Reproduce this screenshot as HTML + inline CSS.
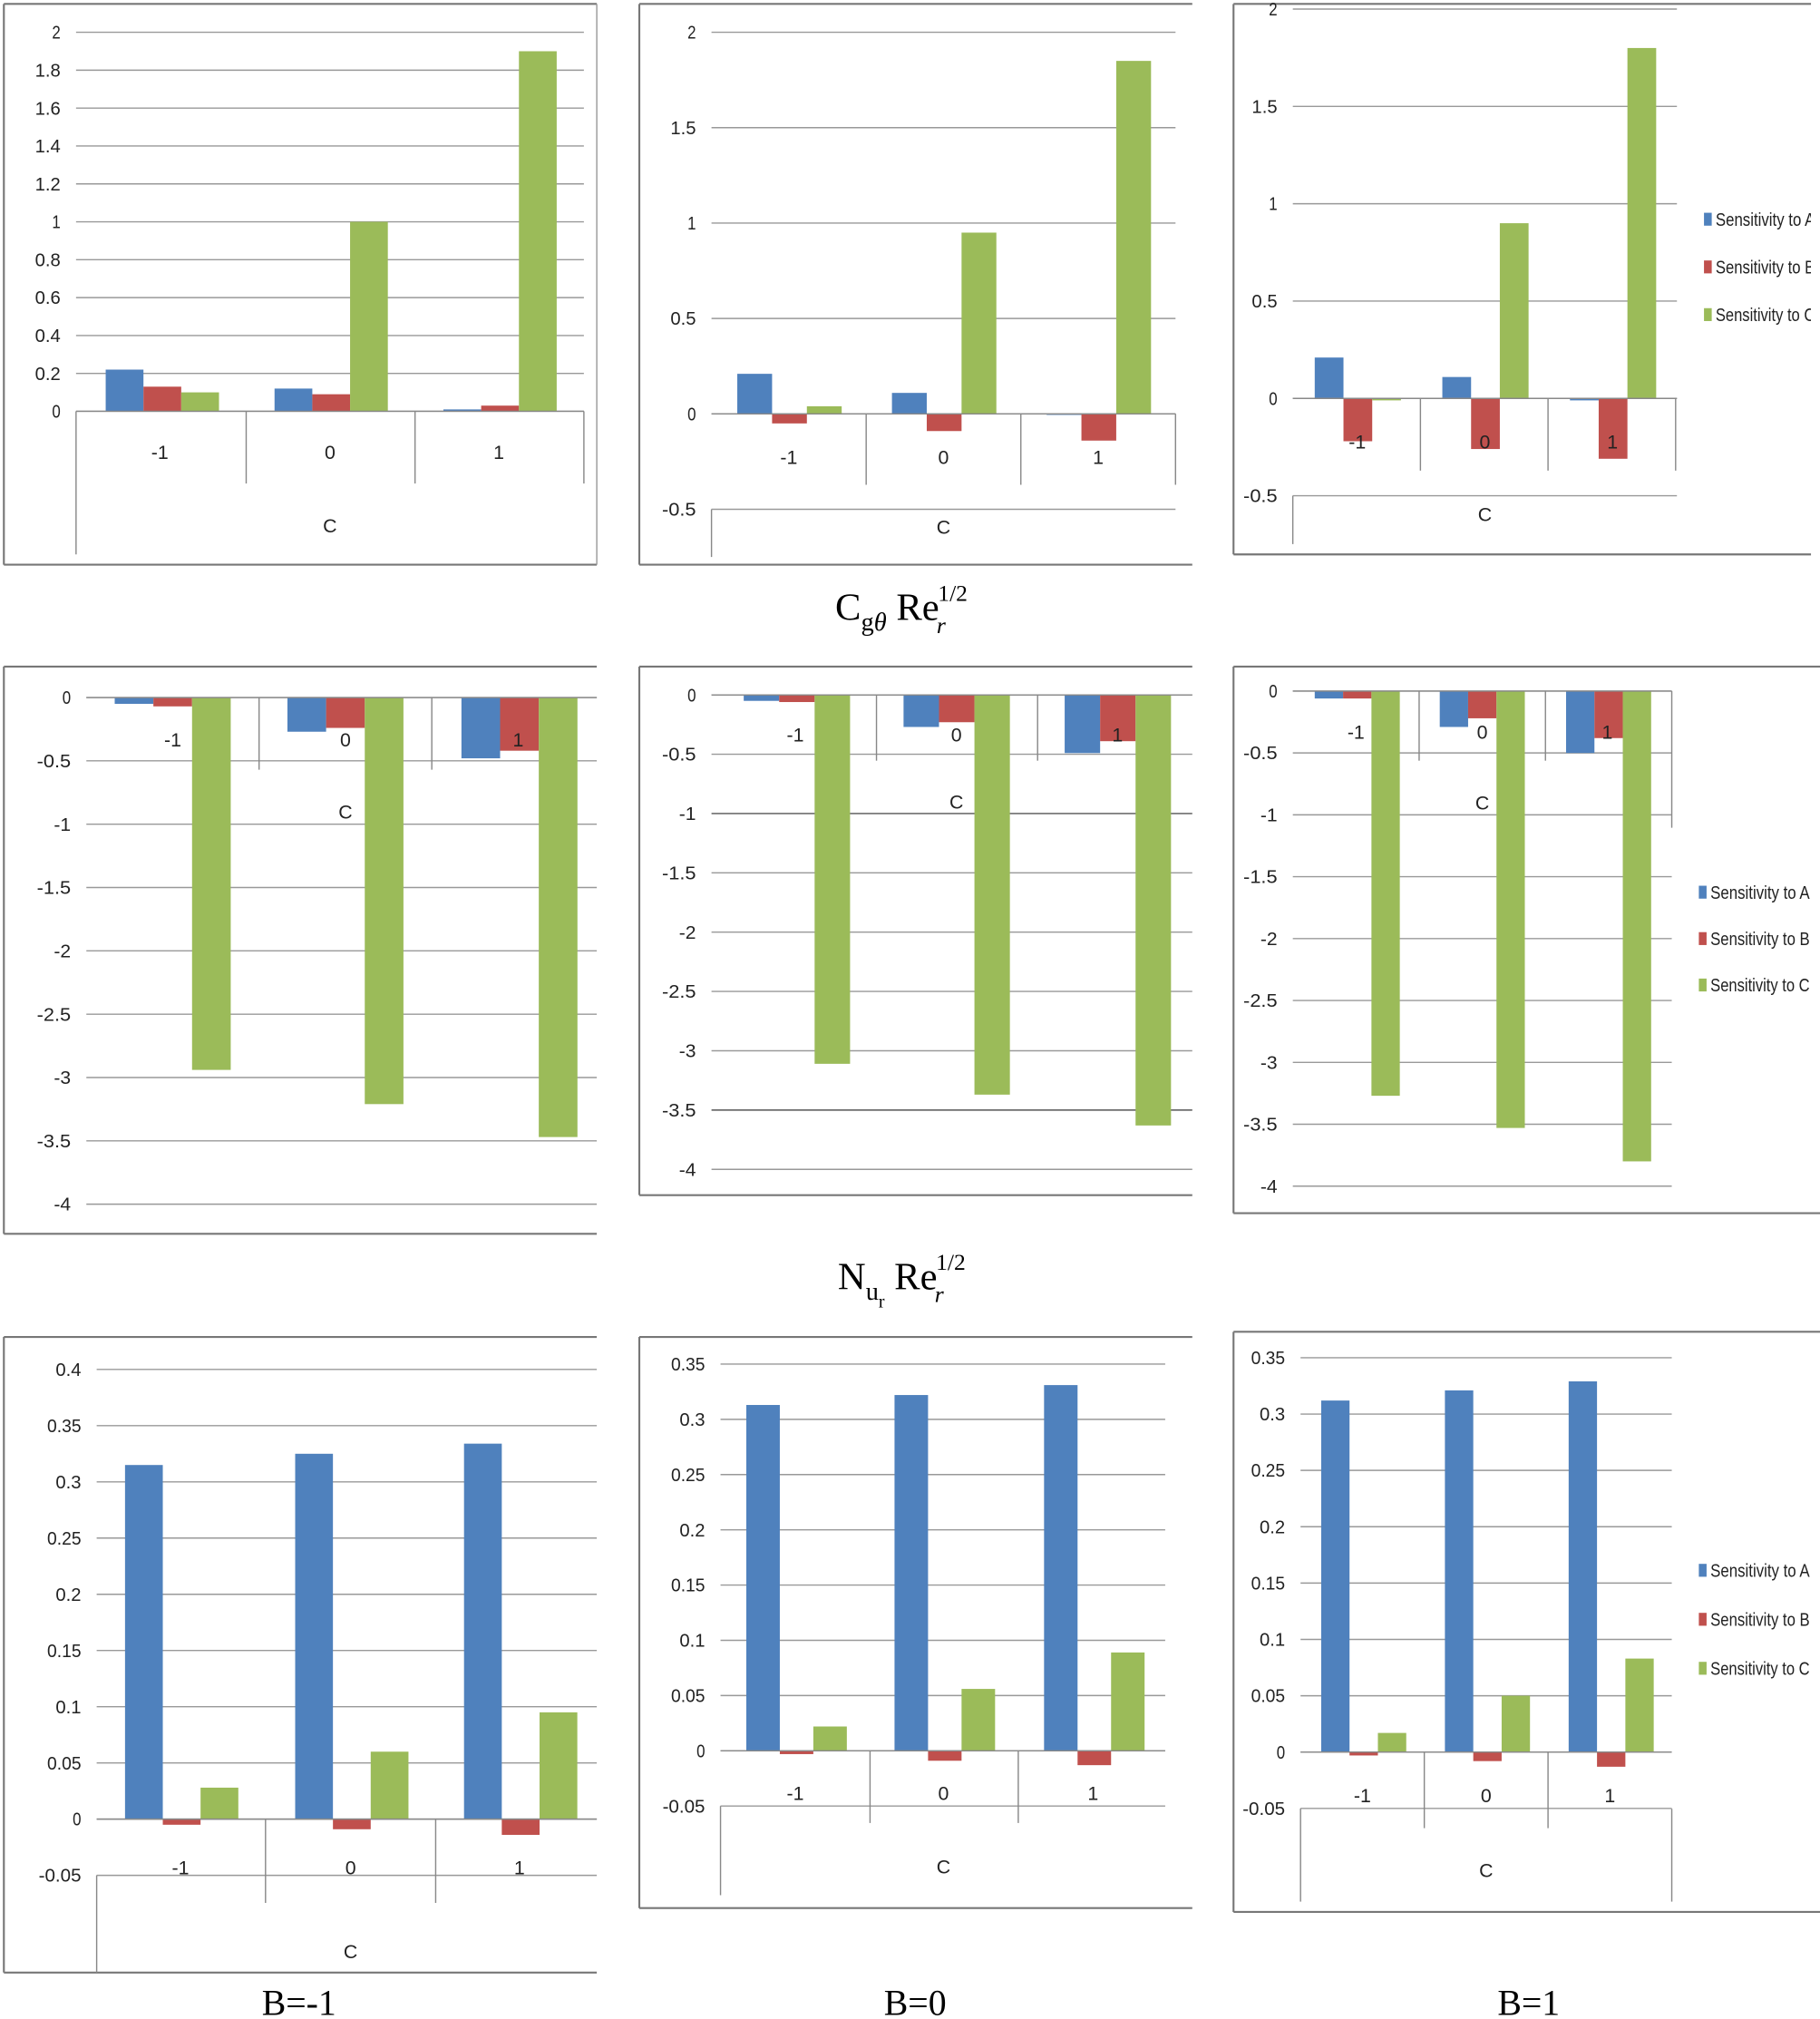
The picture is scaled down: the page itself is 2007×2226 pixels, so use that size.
<!DOCTYPE html>
<html><head><meta charset="utf-8">
<style>
html,body{margin:0;padding:0;background:#fff;}
svg{display:block;}
text{font-family:"Liberation Sans",sans-serif;}
.t{font-family:"Liberation Serif",serif;}
</style></head>
<body>
<svg id="s" xmlns="http://www.w3.org/2000/svg" width="2007" height="2226" viewBox="0 0 1412 1566">
<rect width="1412" height="1566" fill="#fff"/>
<defs><clipPath id="cl"><rect x="0" y="0" width="1405" height="1566"/></clipPath></defs>
<g id="g"></g>
<text class="t" x="648" y="481" font-size="30">C<tspan font-size="20" dy="8">g<tspan font-style="italic">θ</tspan></tspan><tspan dy="-8"> Re</tspan><tspan font-size="18" font-style="italic" dx="-2" dy="10">r</tspan><tspan font-size="18" dx="-6" dy="-25">1/2</tspan></text>
<text class="t" x="650" y="1000" font-size="30">N<tspan font-size="20" dy="8">u</tspan><tspan font-size="14" dy="6">r</tspan><tspan dy="-14"> Re</tspan><tspan font-size="18" font-style="italic" dx="-2" dy="10">r</tspan><tspan font-size="18" dx="-6" dy="-25">1/2</tspan></text>
<text class="t" x="232" y="1563" font-size="28" text-anchor="middle">B=-1</text>
<text class="t" x="710" y="1563" font-size="28" text-anchor="middle">B=0</text>
<text class="t" x="1186" y="1563" font-size="28" text-anchor="middle">B=1</text>
</svg>
<script>
var NS="http://www.w3.org/2000/svg",G=document.getElementById("g");
var B="#4f81bd",R="#c0504d",Gr="#9bbb59";
function el(n,a,t){var e=document.createElementNS(NS,n);for(var k in a)e.setAttribute(k,a[k]);if(t!==undefined)e.textContent=t;G.appendChild(e);return e;}
function line(x1,y1,x2,y2,c,w){el("line",{x1:x1,y1:y1,x2:x2,y2:y2,stroke:c||"#868686","stroke-width":w||1});}
function chart(c){
 var Y=function(v){return c.y0-v*c.sc;};
 var f=c.frame;
 line(f[0],f[1],f[2],f[1],"#777",1.5);line(f[0],f[1],f[0],f[3],"#777",1.5);line(f[0],f[3],f[2],f[3],"#777",1.5);
 if(c.right)line(f[2],f[1],f[2],f[3],"#999",1);
 c.ticks.forEach(function(v){
  line(c.ax,Y(v),c.gx,Y(v),(c.dark&&c.dark.indexOf(v)>=0)?"#555":"#999",1);
  var s=String(v);
  el("text",{x:c.ax-12,y:Y(v)+5,"font-size":14,"text-anchor":"end",fill:"#222",textLength:s.length*6.6,lengthAdjust:"spacingAndGlyphs"},s);
 });
 line(c.ax,Y(c.ticks[0]),c.ax,c.axb,"#888",1);
 c.seps.forEach(function(x){line(x,c.y0,x,c.sb,"#888",1);});
 if(c.redge)line(c.gx,c.redge[0],c.gx,c.redge[1],"#888",1);
 c.bars.forEach(function(b){var y1=Y(b[2]);el("rect",{x:b[0],y:Math.min(y1,c.y0),width:b[1]-b[0],height:Math.max(Math.abs(y1-c.y0),0.8),fill:b[3]});});
 line(c.ax,c.y0,c.gx,c.y0,"#888",1);
 c.lx.forEach(function(x,i){el("text",{x:x,y:c.ly,"font-size":15,"text-anchor":"middle",fill:"#222"},["-1","0","1"][i]);});
 el("text",{x:c.cx,y:c.cy,"font-size":15,"text-anchor":"middle",fill:"#222"},"C");
 if(c.leg){var nm=["A","B","C"],cl=[B,R,Gr];c.leg.ys.forEach(function(y,i){
  el("rect",{x:c.leg.x,y:y-5,width:6,height:10,fill:cl[i]});
  el("text",{x:c.leg.x+9,y:y+5,"font-size":14,fill:"#222","clip-path":"url(#cl)",textLength:77,lengthAdjust:"spacingAndGlyphs"},"Sensitivity to "+nm[i]);});}
}
function grp(xs,w,vals){var r=[],cols=[B,R,Gr];for(var g=0;g<3;g++)for(var k=0;k<3;k++){var x=xs[g]+k*w;r.push([x,x+w,vals[g][k],cols[k]]);}return r;}
chart({frame:[3,3,463,438],right:true,ax:59,gx:453,y0:319,sc:147,ticks:[0,0.2,0.4,0.6,0.8,1,1.2,1.4,1.6,1.8,2],axb:430,seps:[191,322,453],sb:375,
 bars:grp([82,213,344],29.3,[[0.22,0.13,0.1],[0.12,0.09,1.0],[0.01,0.03,1.9]]),lx:[124,256,387],ly:356,cx:256,cy:413});
chart({frame:[496,3,925,438],ax:552,gx:912,y0:321,sc:148,ticks:[-0.5,0,0.5,1,1.5,2],axb:432,seps:[672,792,912],sb:376,
 bars:grp([572,692,812],27,[[0.21,-0.05,0.04],[0.11,-0.09,0.95],[0.0,-0.14,1.85]]),lx:[612,732,852],ly:360,cx:732,cy:414});
chart({frame:[957,3,1405,430],ax:1003,gx:1301,y0:309,sc:151,ticks:[-0.5,0,0.5,1,1.5,2],axb:422,seps:[1102,1201,1300],sb:365,
 bars:grp([1020,1119,1218],22.3,[[0.21,-0.22,-0.01],[0.11,-0.26,0.9],[-0.01,-0.31,1.8]]),lx:[1053,1152,1251],ly:348,cx:1152,cy:404,
 leg:{x:1322,ys:[170,207,244]}});
chart({frame:[3,517,463,957],ax:67,gx:463,y0:541,sc:98.25,ticks:[-4,-3.5,-3,-2.5,-2,-1.5,-1,-0.5,0],axb:934,seps:[201,335],sb:597,
 bars:grp([89,223,358],30,[[-0.05,-0.07,-2.94],[-0.27,-0.24,-3.21],[-0.48,-0.42,-3.47]]),lx:[134,268,402],ly:579,cx:268,cy:635});
chart({frame:[496,517,925,927],ax:552,gx:925,y0:539,sc:92,ticks:[-4,-3.5,-3,-2.5,-2,-1.5,-1,-0.5,0],dark:[-1,-3.5],axb:907,seps:[680,805],sb:590,
 bars:grp([577,701,826],27.5,[[-0.05,-0.06,-3.11],[-0.27,-0.23,-3.37],[-0.49,-0.39,-3.63]]),lx:[617,742,867],ly:575,cx:742,cy:627});
chart({frame:[957,517,1412,941],ax:1003,gx:1297,y0:536,sc:96,ticks:[-4,-3.5,-3,-2.5,-2,-1.5,-1,-0.5,0],axb:920,seps:[1101,1199],sb:590,redge:[536,642],
 bars:grp([1020,1117,1215],22,[[-0.06,-0.06,-3.27],[-0.29,-0.22,-3.53],[-0.5,-0.38,-3.8]]),lx:[1052,1150,1247],ly:573,cx:1150,cy:628,
 leg:{x:1318,ys:[692,728,764]}});
chart({frame:[3,1037,463,1530],ax:75,gx:463,y0:1411,sc:872,ticks:[-0.05,0,0.05,0.1,0.15,0.2,0.25,0.3,0.35,0.4],axb:1530,seps:[206,338],sb:1476,
 bars:grp([97,229,360],29.3,[[0.315,-0.005,0.028],[0.325,-0.009,0.06],[0.334,-0.014,0.095]]),lx:[140,272,403],ly:1454,cx:272,cy:1519});
chart({frame:[496,1037,925,1480],ax:559,gx:904,y0:1358,sc:857,ticks:[-0.05,0,0.05,0.1,0.15,0.2,0.25,0.3,0.35],axb:1470,seps:[675,790],sb:1414,
 bars:grp([579,694,810],26,[[0.313,-0.003,0.022],[0.322,-0.009,0.056],[0.331,-0.013,0.089]]),lx:[617,732,848],ly:1396,cx:732,cy:1453});
chart({frame:[957,1033,1412,1483],ax:1009,gx:1297,y0:1359,sc:874,ticks:[-0.05,0,0.05,0.1,0.15,0.2,0.25,0.3,0.35],axb:1475,seps:[1105,1201],sb:1418,redge:[1403,1475],
 bars:grp([1025,1121,1217],22,[[0.312,-0.003,0.017],[0.321,-0.008,0.05],[0.329,-0.013,0.083]]),lx:[1057,1153,1249],ly:1398,cx:1153,cy:1456,
 leg:{x:1318,ys:[1218,1256,1294]}});
</script>
</body></html>
